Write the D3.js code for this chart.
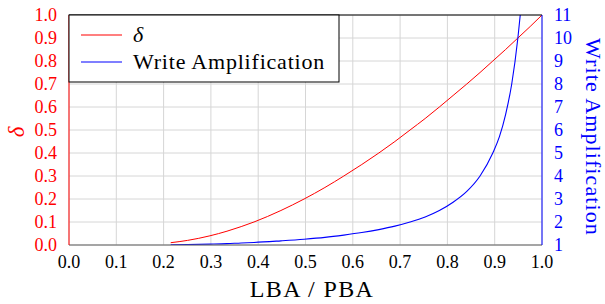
<!DOCTYPE html>
<html>
<head>
<meta charset="utf-8">
<script src="https://d3js.org/d3.v7.min.js"></script>
<style>
  body { margin: 0; background: #fff; }
</style>
</head>
<body>
<svg id="chart" width="605" height="304"></svg>
<script>
// LBA/PBA ratio and the matching delta
var ratio = [0.215, 0.2505, 0.298, 0.334, 0.364, 0.391, 0.448, 0.497, 0.541, 0.581, 0.619,
             0.655, 0.689, 0.721, 0.753, 0.783, 0.812, 0.841, 0.869, 0.896, 0.923, 0.949, 0.975, 1.0];
var delta = [0.01, 0.02, 0.04, 0.06, 0.08, 0.10, 0.15, 0.20, 0.25, 0.30, 0.35,
             0.40, 0.45, 0.50, 0.55, 0.60, 0.65, 0.70, 0.75, 0.80, 0.85, 0.90, 0.95, 1.0];
// write amplification (blue curve), same x positions up to where it leaves the plot
var waRatio = [0.215, 0.2505, 0.298, 0.334, 0.364, 0.391, 0.448, 0.497, 0.541, 0.581, 0.619,
               0.655, 0.689, 0.721, 0.753, 0.783, 0.812, 0.841, 0.869, 0.896, 0.910, 0.923, 0.936, 0.949, 0.954];
var wa = [1.01, 1.02, 1.04, 1.06, 1.09, 1.11, 1.18, 1.25, 1.33, 1.43, 1.54,
          1.67, 1.82, 2.0, 2.22, 2.5, 2.86, 3.33, 4.0, 5.0, 5.71, 6.67, 8.0, 10.0, 11.0];

var xTicks = [0, 0.1, 0.2, 0.3, 0.4, 0.5, 0.6, 0.7, 0.8, 0.9, 1.0];
var leftTicks = [0, 0.1, 0.2, 0.3, 0.4, 0.5, 0.6, 0.7, 0.8, 0.9, 1.0];
var rightTicks = [1, 2, 3, 4, 5, 6, 7, 8, 9, 10, 11];

var font = "'Liberation Serif'";
var svg = d3.select("#chart");
var margin = {top: 15, right: 63, bottom: 59, left: 69};
var w = 605 - margin.left - margin.right;
var h = 304 - margin.top - margin.bottom;

var x = d3.scaleLinear().domain([0, 1]).range([0, w]);
var yL = d3.scaleLinear().domain([0, 1]).range([h, 0]);
var yR = d3.scaleLinear().domain([1, 11]).range([h, 0]);

var g = svg.append("g").attr("transform", "translate(" + margin.left + "," + margin.top + ")");

// grid
g.selectAll(".vgrid").data(xTicks).enter().append("line")
  .attr("x1", d => x(d)).attr("x2", d => x(d)).attr("y1", 0).attr("y2", h)
  .attr("stroke", "#d6d6d6").attr("stroke-width", 1);
g.selectAll(".hgrid").data(leftTicks).enter().append("line")
  .attr("y1", d => yL(d)).attr("y2", d => yL(d)).attr("x1", 0).attr("x2", w)
  .attr("stroke", "#d6d6d6").attr("stroke-width", 1);

g.append("clipPath").attr("id", "clip").append("rect")
  .attr("x", 0).attr("y", 0).attr("width", w).attr("height", h);

var lineD = d3.line().x((d, i) => x(ratio[i])).y(d => yL(d)).curve(d3.curveMonotoneX);
var lineW = d3.line().x((d, i) => x(waRatio[i])).y(d => yR(d)).curve(d3.curveMonotoneX);

g.append("path").attr("d", lineD(delta)).attr("fill", "none")
  .attr("stroke", "#ff0000").attr("stroke-width", 1).attr("clip-path", "url(#clip)");
g.append("path").attr("d", lineW(wa)).attr("fill", "none")
  .attr("stroke", "#0000ff").attr("stroke-width", 1.1).attr("clip-path", "url(#clip)");

// frame
g.append("line").attr("x1", 0).attr("x2", w).attr("y1", 0).attr("y2", 0).attr("stroke", "#000");
g.append("line").attr("x1", 0).attr("x2", w).attr("y1", h).attr("y2", h).attr("stroke", "#606060").attr("stroke-width", 1.2);
g.append("line").attr("x1", 0).attr("x2", 0).attr("y1", 0).attr("y2", h).attr("stroke", "#ff0000");
g.append("line").attr("x1", w).attr("x2", w).attr("y1", 0).attr("y2", h).attr("stroke", "#0000ff");

// tick labels
var fs = 18;
g.selectAll(".xt").data(xTicks).enter().append("text")
  .attr("x", d => x(d)).attr("y", h + 23).attr("text-anchor", "middle")
  .style("font-family", font).style("font-size", fs + "px").attr("fill", "#000").text(d => d3.format(".1f")(d));
g.selectAll(".lt").data(leftTicks).enter().append("text")
  .attr("x", -12).attr("y", d => yL(d) + 6).attr("text-anchor", "end")
  .style("font-family", font).style("font-size", fs + "px").attr("fill", "#ff0000").text(d => d3.format(".1f")(d));
g.selectAll(".rt").data(rightTicks).enter().append("text")
  .attr("x", w + 12).attr("y", d => yR(d) + 6).attr("text-anchor", "start")
  .style("font-family", font).style("font-size", fs + "px").attr("fill", "#0000ff").text(d => d);

// axis titles
svg.append("text").attr("x", 312).attr("y", 297).attr("text-anchor", "middle")
  .style("font-family", font).style("font-size", "24px").style("letter-spacing", "1.4px")
  .attr("fill", "#000").text("LBA / PBA");
svg.append("text").attr("transform", "translate(24," + 132 + ") rotate(-90)")
  .attr("text-anchor", "middle").style("font-family", font).style("font-size", "23px")
  .style("font-style", "italic").attr("fill", "#ff0000").text("δ");
svg.append("text").attr("transform", "translate(586," + 137 + ") rotate(90)")
  .attr("text-anchor", "middle").style("font-family", font).style("font-size", "22px")
  .style("letter-spacing", "1.1px").attr("fill", "#0000ff").text("Write Amplification");

// legend
var lg = g.append("g");
lg.append("rect").attr("x", 0).attr("y", 0).attr("width", 270).attr("height", 67)
  .attr("fill", "#fff").attr("stroke", "#000");
var items = [{label: "δ", color: "#ff0000", italic: true}, {label: "Write Amplification", color: "#0000ff", italic: false}];
lg.selectAll(".li").data(items).enter().append("line")
  .attr("x1", 12).attr("x2", 53).attr("y1", (d, i) => 20 + i * 27).attr("y2", (d, i) => 20 + i * 27)
  .attr("stroke", d => d.color).attr("stroke-width", 1.1);
lg.selectAll(".lg").data(items).enter().append("text")
  .attr("x", 64).attr("y", (d, i) => 27 + i * 27)
  .style("font-family", font).style("font-size", "22px").style("letter-spacing", "0.8px")
  .style("font-style", d => d.italic ? "italic" : "normal").attr("fill", "#000").text(d => d.label);
</script>
</body>
</html>
